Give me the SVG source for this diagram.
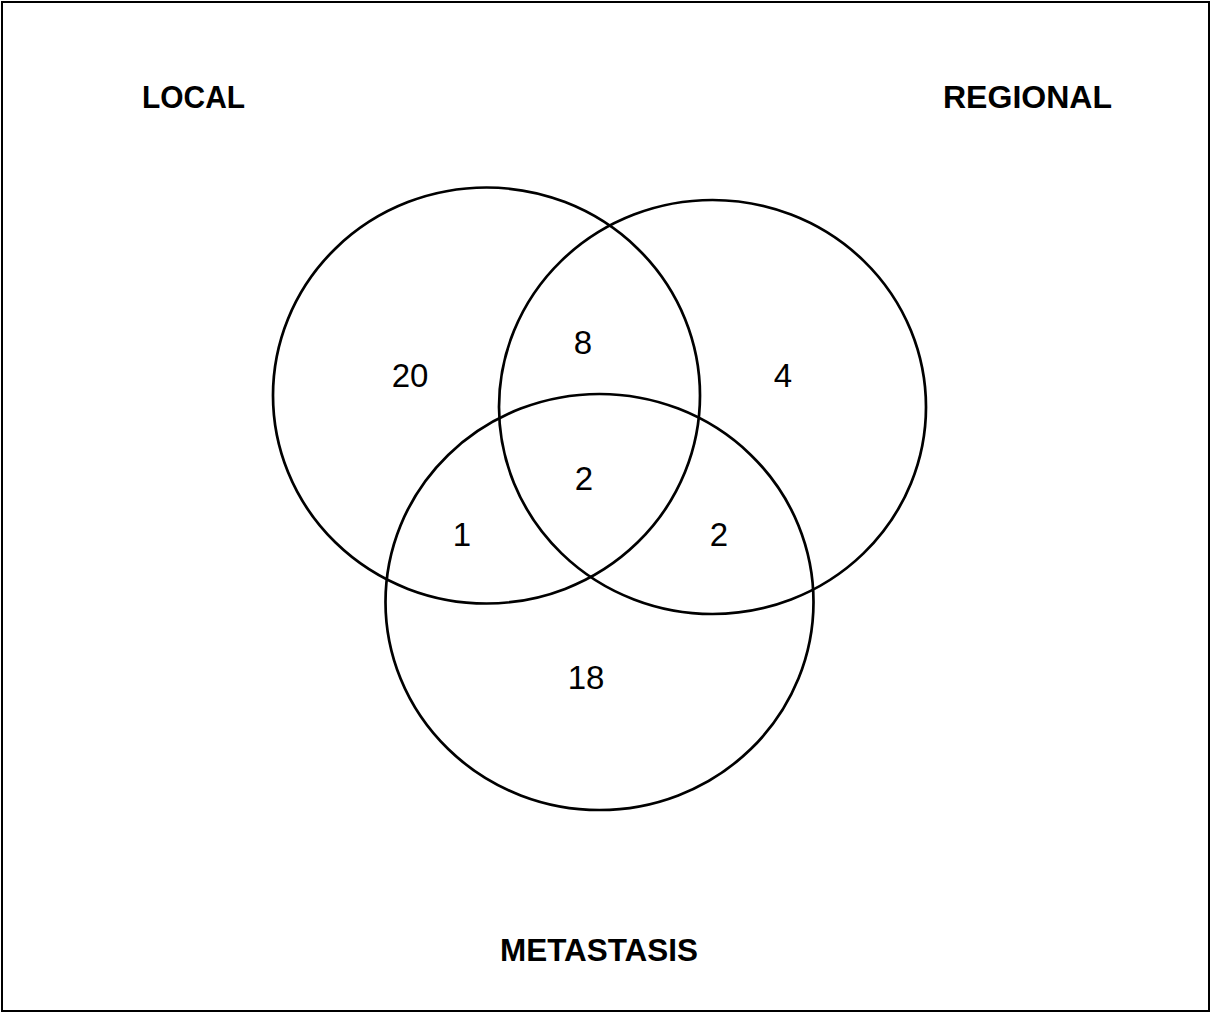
<svg xmlns="http://www.w3.org/2000/svg" width="1212" height="1014" viewBox="0 0 1212 1014">
<style>
.set{fill:none;stroke:#000;stroke-width:2.7}
.lbl{font-family:"Liberation Sans",Arial,sans-serif;font-weight:bold;font-size:32px;fill:#000}
.num{font-family:"Liberation Sans",Arial,sans-serif;font-size:33px;fill:#000;text-anchor:middle}
</style>
<rect x="2" y="2" width="1207" height="1009" fill="#fff" stroke="#000" stroke-width="2"/>
<g id="local"><ellipse class="set" cx="486.5" cy="395.5" rx="213.5" ry="208"/></g>
<g id="regional"><ellipse class="set" cx="712.5" cy="407" rx="213.5" ry="207"/></g>
<g id="metastasis"><ellipse class="set" cx="599.5" cy="602" rx="214" ry="208"/></g>
<g id="labels">
<text class="lbl" x="142" y="108" textLength="103" lengthAdjust="spacingAndGlyphs">LOCAL</text>
<text class="lbl" x="943" y="108" textLength="169" lengthAdjust="spacingAndGlyphs">REGIONAL</text>
<text class="lbl" x="500" y="961" textLength="198" lengthAdjust="spacingAndGlyphs">METASTASIS</text>
</g>
<g id="counts">
<text class="num" x="410" y="387">20</text>
<text class="num" x="583" y="354">8</text>
<text class="num" x="783" y="387">4</text>
<text class="num" x="584" y="490">2</text>
<text class="num" x="462" y="546">1</text>
<text class="num" x="719" y="546">2</text>
<text class="num" x="586" y="689">18</text>
</g>
</svg>
